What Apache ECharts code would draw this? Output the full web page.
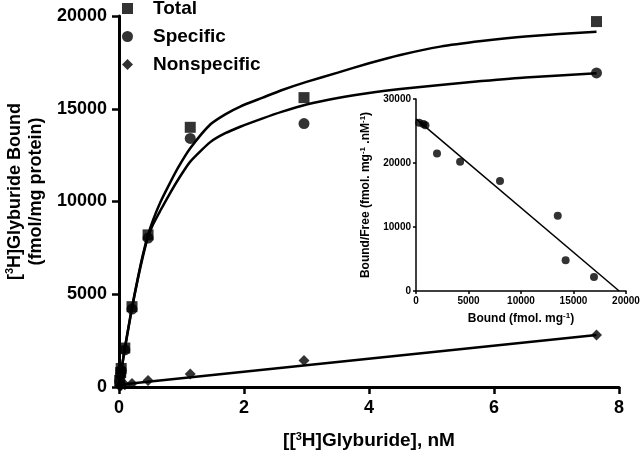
<!DOCTYPE html>
<html>
<head>
<meta charset="utf-8">
<script src="https://cdn.jsdelivr.net/npm/echarts@6/dist/echarts.min.js"></script>
<style>
  html, body { margin: 0; padding: 0; background: #fff; }
  #chart { width: 640px; height: 458px; }
</style>
</head>
<body>
<div id="chart"></div>
<script>
  // measured points, free [3H]glyburide (nM)
  const freeNM = [0.011, 0.027, 0.035, 0.093, 0.208, 0.465, 1.14, 2.96, 7.64];
  const totalBound = [350, 780, 1000, 2100, 4330, 8200, 14000, 15600, 19700];
  const specificBound = [300, 700, 900, 2000, 4200, 8030, 13400, 14200, 16930];
  const nonspecificBound = [50, 80, 100, 120, 190, 350, 700, 1430, 2800];

  // fitted curves
  const fitX = [0, 0.05, 0.093, 0.15, 0.208, 0.3, 0.38, 0.465, 0.55, 0.66, 0.8, 0.95, 1.14,
    1.46, 1.7, 1.94, 2.3, 2.6, 3.0, 3.5, 4.0, 4.5, 5.14, 5.8, 6.5, 7.64];
  const fitTotal = [0, 1150, 2100, 3200, 4300, 5850, 7100, 8200, 9050, 9950, 10900, 11850, 12870,
    14150, 14700, 15120, 15600, 16000, 16450, 16950, 17450, 17900, 18350, 18650, 18900, 19150];
  const fitSpecific = [0, 1150, 2050, 3150, 4250, 5800, 7000, 8100, 8800, 9500, 10350, 11200, 12150,
    13200, 13680, 14030, 14480, 14830, 15230, 15580, 15850, 16060, 16280, 16490, 16690, 16910];
  const nsLineX = [0, 7.64];
  const nsLineY = [120, 2800];

  // Scatchard inset
  const scatBound = [300, 700, 900, 2000, 4200, 8000, 13500, 14250, 16950];
  const scatRatio = [26300, 26100, 25900, 21500, 20200, 17200, 11750, 4800, 2200];
  const scatLineX = [0, 19350];
  const scatLineY = [26900, 0];

  const legendNames = ['Total', 'Specific', 'Nonspecific'];

  function pairs(xs, ys) {
    let out = []
    for (let i = 0; i < xs.length; i++) out.push([xs[i], ys[i]])
    return out
  }

  const font = "'Liberation Sans', Arial, Helvetica, sans-serif"
  const supBig = {fontSize: 11, fontWeight: 'bold', fontFamily: font, color: '#000', verticalAlign: 'top', padding: [0, 0, 8, 0]}
  const supSmall = {fontSize: 8, fontWeight: 'bold', fontFamily: font, color: '#000', verticalAlign: 'top', padding: [0, 0, 5, 0]}
  const plain = v => String(v)

  let chart = echarts.init(document.getElementById('chart'))

  let mainAxis = {
    axisLine: {lineStyle: {color: '#000', width: 3}},
    axisTick: {lineStyle: {color: '#000', width: 2.5}, length: 7},
    axisLabel: {color: '#000', fontSize: 18, fontWeight: 'bold', fontFamily: font, margin: 12, formatter: plain},
    splitLine: {show: false}
  }
  let insetAxis = {
    axisLine: {lineStyle: {color: '#000', width: 1.5}},
    axisTick: {lineStyle: {color: '#000', width: 1.5}, length: 3},
    axisLabel: {color: '#000', fontSize: 10, fontWeight: 'bold', fontFamily: font, margin: 5, formatter: plain},
    splitLine: {show: false}
  }

  chart.setOption({
    backgroundColor: '#fff',
    animation: false,
    legend: {
      orient: 'vertical',
      left: 117,
      top: -6,
      itemWidth: 11,
      itemHeight: 11,
      itemGap: 9,
      data: legendNames,
      textStyle: {color: '#000', fontSize: 19, fontWeight: 'bold', fontFamily: font, padding: [0, 0, 0, 15]}
    },
    grid: [
      {left: 119, right: 21, top: 16, bottom: 71, outerBoundsMode: 'none'},
      {left: 416, right: 14, top: 99, bottom: 167, outerBoundsMode: 'none'}
    ],
    xAxis: [
      Object.assign({}, mainAxis, {
        type: 'value', gridIndex: 0, min: 0, max: 8, interval: 2,
        name: '[[{sup|3}H]Glyburide], nM',
        nameLocation: 'middle', nameGap: 44,
        nameTextStyle: {color: '#000', fontSize: 19, fontWeight: 'bold', fontFamily: font, rich: {sup: supBig}}
      }),
      Object.assign({}, insetAxis, {
        type: 'value', gridIndex: 1, min: 0, max: 20000, interval: 5000,
        name: 'Bound (fmol. mg{sup|-1})',
        nameLocation: 'middle', nameGap: 21,
        nameTextStyle: {color: '#000', fontSize: 12, fontWeight: 'bold', fontFamily: font, rich: {sup: supSmall}}
      })
    ],
    yAxis: [
      Object.assign({}, mainAxis, {
        type: 'value', gridIndex: 0, min: 0, max: 20000, interval: 5000,
        name: '[{sup|3}H]Glyburide Bound\n(fmol/mg protein)',
        nameLocation: 'middle', nameGap: 68, nameRotate: 90,
        nameTextStyle: {color: '#000', fontSize: 18, fontWeight: 'bold', fontFamily: font, lineHeight: 21,
          padding: [0, 0, 0, 20], rich: {sup: supBig}}
      }),
      Object.assign({}, insetAxis, {
        type: 'value', gridIndex: 1, min: 0, max: 30000, interval: 10000,
        name: 'Bound/Free (fmol. mg{sup|-1} .nM{sup|-1})',
        nameLocation: 'middle', nameGap: 44, nameRotate: 90,
        nameTextStyle: {color: '#000', fontSize: 12, fontWeight: 'bold', fontFamily: font, rich: {sup: supSmall}}
      })
    ],
    series: [
      {
        name: 'fit total', type: 'line', xAxisIndex: 0, yAxisIndex: 0,
        data: pairs(fitX, fitTotal), showSymbol: false, smooth: 0.2,
        lineStyle: {color: '#000', width: 2.5}, silent: true
      },
      {
        name: 'fit specific', type: 'line', xAxisIndex: 0, yAxisIndex: 0,
        data: pairs(fitX, fitSpecific), showSymbol: false, smooth: 0.2,
        lineStyle: {color: '#000', width: 2.5}, silent: true
      },
      {
        name: 'fit nonspecific', type: 'line', xAxisIndex: 0, yAxisIndex: 0,
        data: pairs(nsLineX, nsLineY), showSymbol: false,
        lineStyle: {color: '#000', width: 2.5}, silent: true
      },
      {
        name: 'Total', type: 'scatter', xAxisIndex: 0, yAxisIndex: 0,
        symbol: 'rect', symbolSize: 11, itemStyle: {color: '#000'},
        data: pairs(freeNM, totalBound)
      },
      {
        name: 'Specific', type: 'scatter', xAxisIndex: 0, yAxisIndex: 0,
        symbol: 'circle', symbolSize: 11, itemStyle: {color: '#000'},
        data: pairs(freeNM, specificBound)
      },
      {
        name: 'Nonspecific', type: 'scatter', xAxisIndex: 0, yAxisIndex: 0,
        symbol: 'diamond', symbolSize: 11, itemStyle: {color: '#000'},
        data: pairs(freeNM, nonspecificBound)
      },
      {
        name: 'scatchard fit', type: 'line', xAxisIndex: 1, yAxisIndex: 1,
        data: pairs(scatLineX, scatLineY), showSymbol: false,
        lineStyle: {color: '#000', width: 1.5}, silent: true
      },
      {
        name: 'scatchard', type: 'scatter', xAxisIndex: 1, yAxisIndex: 1,
        symbol: 'circle', symbolSize: 8, itemStyle: {color: '#000'},
        data: pairs(scatBound, scatRatio)
      }
    ]
  })
</script>
</body>
</html>
